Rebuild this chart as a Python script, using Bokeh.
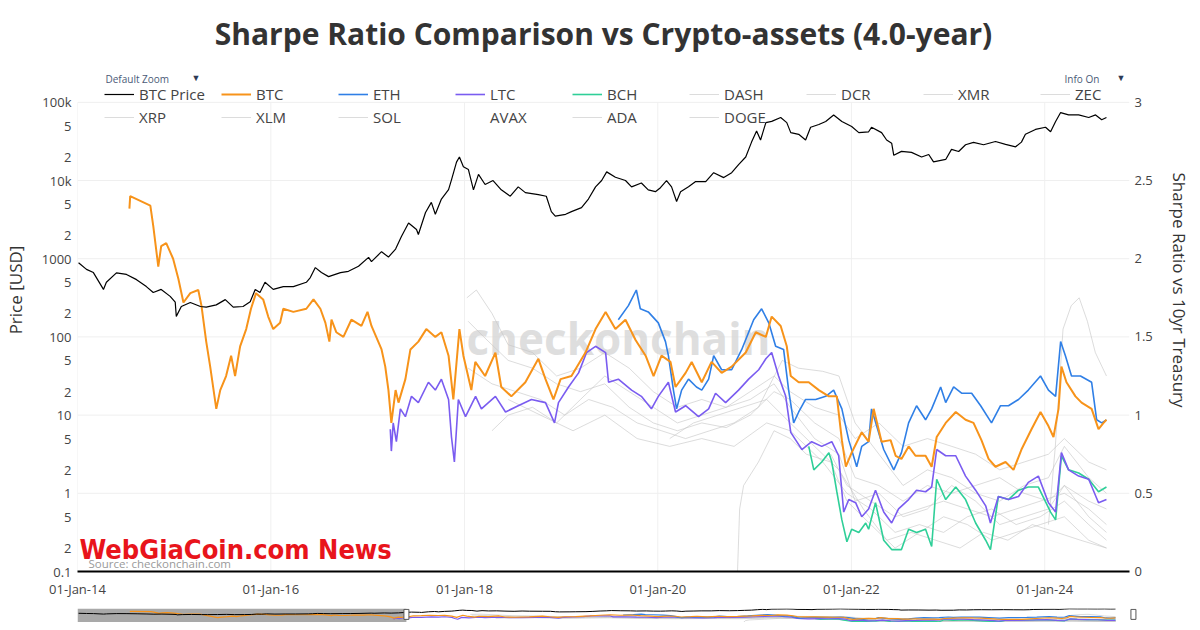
import pandas as pd
from bokeh.plotting import figure
from bokeh.models import (Range1d, LinearAxis, LinearScale, FixedTicker, DatetimeTickFormatter,
                          Legend, LegendItem, Label, BoxAnnotation)
from bokeh.layouts import column
from bokeh.embed import file_html
from bokeh.resources import INLINE

# ---------------- data ----------------
TITLE = "Sharpe Ratio Comparison vs Crypto-assets (4.0-year)"
X_START, X_END = "2014-01-01", "2024-11-16"
SLIDER_END = "2024-11-15"
SLIDER_MASK_END = "2017-05-16"
SLIDER_HANDLE_END = "2024-10-27"
TICK_YEARS = [2014, 2016, 2018, 2020, 2022, 2024]
PRICE_TICKS = [0.1, 0.2, 0.5, 1, 2, 5, 10, 20, 50, 100, 200, 500, 1000, 2000, 5000,
               10000, 20000, 50000, 100000]
PRICE_TICK_LABELS = ["0.1", "2", "5", "1", "2", "5", "10", "2", "5", "100", "2", "5",
                     "1000", "2", "5", "10k", "2", "5", "100k"]
PRICE_GRID = [1, 10, 100, 1000, 10000, 100000]
PRICE_AXIS = (0.1, 100000)
PRICE_VIEW_TOP = 10 ** 6.2           # head room above the axes for title / legend
SHARPE_TICKS = [0, 0.5, 1, 1.5, 2, 2.5, 3]
SHARPE_TICK_LABELS = ["0", "0.5", "1", "1.5", "2", "2.5", "3"]
SHARPE_AXIS = (0, 3)
SHARPE_VIEW_TOP = 3.6

PRICE_DATES = ["2014-01-05", "2014-02-04", "2014-03-02", "2014-04-09", "2014-04-20", "2014-05-28",
               "2014-07-05", "2014-08-12", "2014-09-18", "2014-10-14", "2014-11-13", "2014-12-17",
               "2015-01-05", "2015-01-09", "2015-01-28", "2015-03-03", "2015-04-10", "2015-05-02",
               "2015-06-09", "2015-07-13", "2015-08-12", "2015-09-18", "2015-10-15", "2015-11-03",
               "2015-11-21", "2015-12-10", "2016-01-10", "2016-02-17", "2016-03-26", "2016-05-14",
               "2016-05-29", "2016-06-17", "2016-07-10", "2016-08-06", "2016-09-20", "2016-10-20",
               "2016-11-27", "2017-01-04", "2017-01-15", "2017-02-22", "2017-03-20", "2017-04-16",
               "2017-05-08", "2017-06-04", "2017-07-04", "2017-07-11", "2017-08-07", "2017-08-29",
               "2017-09-13", "2017-10-06", "2017-11-02", "2017-11-13", "2017-12-02", "2017-12-13",
               "2017-12-28", "2018-01-16", "2018-02-04", "2018-02-23", "2018-03-20", "2018-04-19",
               "2018-05-20", "2018-06-23", "2018-07-23", "2018-08-19", "2018-10-07", "2018-11-06",
               "2018-11-25", "2018-12-10", "2019-01-18", "2019-02-09", "2019-03-19", "2019-04-14",
               "2019-05-11", "2019-06-03", "2019-06-22", "2019-07-25", "2019-09-01", "2019-09-24",
               "2019-10-31", "2019-11-26", "2019-12-23", "2020-01-11", "2020-02-03", "2020-02-22",
               "2020-03-12", "2020-03-27", "2020-04-26", "2020-05-23", "2020-06-30", "2020-07-30",
               "2020-09-06", "2020-10-06", "2020-11-01", "2020-11-28", "2020-12-20", "2021-01-08",
               "2021-01-23", "2021-02-12", "2021-03-06", "2021-04-09", "2021-05-02", "2021-05-17",
               "2021-06-16", "2021-07-12", "2021-07-31", "2021-08-31", "2021-09-26", "2021-10-26",
               "2021-11-26", "2022-01-02", "2022-01-29", "2022-03-07", "2022-03-18", "2022-04-25",
               "2022-05-14", "2022-06-02", "2022-06-10", "2022-07-09", "2022-08-16", "2022-09-23",
               "2022-10-20", "2022-11-07", "2022-12-23", "2023-01-14", "2023-02-10", "2023-03-08",
               "2023-04-07", "2023-05-15", "2023-06-29", "2023-08-06", "2023-09-13", "2023-10-05",
               "2023-10-20", "2023-11-27", "2024-01-04", "2024-01-23", "2024-02-11", "2024-03-01",
               "2024-03-31", "2024-05-08", "2024-06-15", "2024-07-11", "2024-08-03", "2024-08-21"]
PRICE = [890, 730, 665, 405, 500, 660, 630, 540, 440, 370, 405, 330,
         278, 183, 245, 275, 245, 240, 257, 300, 240, 245, 282, 405,
         370, 500, 405, 440, 440, 500, 575, 770, 665, 590, 665, 690,
         800, 1040, 920, 1230, 1050, 1330, 1920, 2870, 2360, 2040, 3900, 5250,
         3700, 5800, 7650, 10200, 17200, 20000, 15000, 13800, 7600, 12000, 8900, 10000,
         7600, 6300, 8300, 7000, 6600, 6300, 4000, 3500, 3700, 4000, 4500, 5800,
         8300, 10000, 12900, 11000, 10000, 8300, 9300, 7600, 7200, 8100, 10000, 8300,
         5400, 7200, 8300, 9700, 9700, 12600, 10900, 12600, 16000, 20000, 31000, 43000,
         33000, 55000, 57000, 64000, 55000, 41000, 39000, 33000, 48000, 52000, 57000, 69000,
         57000, 49000, 41000, 42000, 48000, 41000, 33000, 30000, 21000, 23600, 22900, 20000,
         21500, 17300, 18600, 25000, 23500, 28700, 30700, 28700, 31600, 29000, 27000, 31000,
         39000, 45000, 48000, 42000, 57000, 74000, 69000, 69000, 64000, 69000, 60000, 64000]

BTC_DATES = ["2014-07-16", "2014-07-19", "2014-10-03", "2014-10-14", "2014-11-02", "2014-11-13",
             "2014-12-02", "2014-12-28", "2015-01-17", "2015-02-05", "2015-03-03", "2015-04-02",
             "2015-04-14", "2015-05-02", "2015-05-17", "2015-06-09", "2015-06-24", "2015-07-16",
             "2015-08-04", "2015-08-19", "2015-09-07", "2015-09-30", "2015-10-18", "2015-11-06",
             "2015-12-03", "2015-12-22", "2016-01-10", "2016-02-05", "2016-02-17", "2016-03-26",
             "2016-05-14", "2016-06-10", "2016-07-06", "2016-07-25", "2016-08-09", "2016-08-17",
             "2016-09-04", "2016-10-01", "2016-10-31", "2016-12-08", "2016-12-31", "2017-01-15",
             "2017-02-22", "2017-03-08", "2017-03-20", "2017-03-31", "2017-04-16", "2017-04-27",
             "2017-05-23", "2017-06-11", "2017-07-11", "2017-08-10", "2017-09-13", "2017-10-06",
             "2017-11-02", "2017-11-20", "2017-12-13", "2017-12-28", "2018-01-27", "2018-02-11",
             "2018-03-20", "2018-04-28", "2018-05-20", "2018-06-27", "2018-08-19", "2018-10-07",
             "2018-11-03", "2018-12-03", "2018-12-30", "2019-02-09", "2019-04-03", "2019-05-11",
             "2019-06-18", "2019-07-25", "2019-09-01", "2019-10-09", "2019-11-16", "2019-12-16",
             "2020-01-15", "2020-02-18", "2020-03-08", "2020-04-15", "2020-05-08", "2020-06-15",
             "2020-07-22", "2020-08-29", "2020-10-06", "2020-11-28", "2021-01-05", "2021-02-12",
             "2021-03-06", "2021-04-09", "2021-05-02", "2021-05-17", "2021-06-16", "2021-07-24",
             "2021-08-31", "2021-10-08", "2021-11-07", "2021-11-26", "2021-12-11", "2022-01-02",
             "2022-02-09", "2022-03-07", "2022-03-26", "2022-04-25", "2022-05-29", "2022-06-17",
             "2022-07-09", "2022-08-05", "2022-08-31", "2022-10-08", "2022-10-31", "2022-11-19",
             "2022-12-23", "2023-01-30", "2023-03-08", "2023-04-07", "2023-05-07", "2023-06-03",
             "2023-06-29", "2023-08-06", "2023-09-05", "2023-10-05", "2023-11-12", "2023-12-16",
             "2024-01-15", "2024-02-03", "2024-02-22", "2024-03-04", "2024-03-23", "2024-04-26",
             "2024-05-19", "2024-06-26", "2024-07-22", "2024-08-10", "2024-08-21"]
BTC_SHARPE = [2.32, 2.40, 2.34, 2.21, 1.95, 2.08, 2.10, 2.00, 1.87, 1.72, 1.78, 1.80,
              1.70, 1.47, 1.31, 1.04, 1.16, 1.25, 1.38, 1.25, 1.44, 1.55, 1.68, 1.78,
              1.74, 1.63, 1.55, 1.59, 1.68, 1.66, 1.68, 1.74, 1.68, 1.59, 1.47, 1.61,
              1.53, 1.50, 1.61, 1.57, 1.66, 1.57, 1.42, 1.31, 1.16, 0.95, 1.16, 1.08,
              1.23, 1.42, 1.47, 1.55, 1.50, 1.53, 1.38, 1.10, 1.55, 1.38, 1.16, 1.34,
              1.25, 1.40, 1.18, 1.12, 1.21, 1.36, 1.23, 1.10, 1.23, 1.25, 1.40, 1.55,
              1.66, 1.55, 1.61, 1.48, 1.38, 1.25, 1.38, 1.34, 1.18, 1.27, 1.34, 1.21,
              1.34, 1.27, 1.31, 1.40, 1.53, 1.50, 1.63, 1.57, 1.44, 1.25, 1.21, 1.21,
              1.16, 1.12, 1.12, 0.84, 0.67, 0.76, 0.89, 0.83, 1.04, 0.83, 0.84, 0.74,
              0.72, 0.80, 0.74, 0.74, 0.67, 0.86, 0.95, 1.02, 0.97, 0.95, 0.84, 0.72,
              0.67, 0.70, 0.65, 0.78, 0.91, 1.02, 0.93, 0.86, 1.04, 1.31, 1.21, 1.12,
              1.08, 1.04, 0.91, 0.95, 0.97]

ETH_DATES = ["2019-08-05", "2019-09-12", "2019-10-12", "2019-10-27", "2019-11-26", "2020-01-03",
             "2020-01-30", "2020-02-10", "2020-02-29", "2020-03-12", "2020-03-31", "2020-04-26",
             "2020-05-26", "2020-06-15", "2020-07-11", "2020-07-30", "2020-08-29", "2020-10-06",
             "2020-11-13", "2020-12-28", "2021-01-27", "2021-02-23", "2021-03-21", "2021-04-20",
             "2021-05-09", "2021-05-28", "2021-06-16", "2021-07-12", "2021-08-19", "2021-09-26",
             "2021-10-26", "2021-11-26", "2021-12-22", "2022-01-21", "2022-02-09", "2022-03-07",
             "2022-03-18", "2022-05-03", "2022-06-10", "2022-07-09", "2022-08-05", "2022-09-04",
             "2022-10-08", "2022-10-31", "2022-12-04", "2022-12-23", "2023-01-22", "2023-02-21",
             "2023-03-31", "2023-05-04", "2023-06-14", "2023-07-18", "2023-08-17", "2023-09-24",
             "2023-10-31", "2023-12-16", "2024-01-15", "2024-02-11", "2024-03-01", "2024-03-19",
             "2024-04-11", "2024-05-15", "2024-06-26", "2024-07-15", "2024-08-03", "2024-08-21"]
ETH_SHARPE = [1.61, 1.70, 1.80, 1.68, 1.66, 1.59, 1.47, 1.38, 1.16, 1.04, 1.16, 1.23,
              1.18, 1.16, 1.23, 1.38, 1.29, 1.29, 1.42, 1.61, 1.68, 1.59, 1.44, 1.42,
              1.16, 0.95, 1.02, 1.10, 1.10, 1.12, 1.16, 1.04, 0.84, 0.67, 0.80, 0.83,
              1.04, 0.78, 0.65, 0.76, 0.95, 1.06, 0.97, 1.04, 1.18, 1.08, 1.18, 1.14,
              1.14, 1.06, 0.95, 1.06, 1.06, 1.10, 1.16, 1.25, 1.16, 1.12, 1.47, 1.38,
              1.25, 1.25, 1.21, 0.97, 0.95, 0.97]

LTC_DATES = ["2017-03-27", "2017-03-31", "2017-04-07", "2017-04-19", "2017-05-04", "2017-05-23",
             "2017-06-15", "2017-07-11", "2017-08-18", "2017-09-13", "2017-10-06", "2017-11-02",
             "2017-11-13", "2017-11-24", "2017-12-09", "2018-01-05", "2018-02-12", "2018-03-06",
             "2018-04-28", "2018-06-05", "2018-07-23", "2018-09-11", "2018-11-03", "2018-12-07",
             "2018-12-22", "2019-01-29", "2019-03-08", "2019-04-07", "2019-05-11", "2019-06-18",
             "2019-06-29", "2019-08-05", "2019-09-24", "2019-10-31", "2019-12-08", "2020-01-03",
             "2020-02-10", "2020-03-08", "2020-04-15", "2020-06-03", "2020-07-11", "2020-08-06",
             "2020-09-13", "2020-11-01", "2020-12-09", "2021-01-16", "2021-02-12", "2021-03-06",
             "2021-04-01", "2021-04-28", "2021-05-17", "2021-06-05", "2021-06-28", "2021-08-04",
             "2021-09-11", "2021-10-19", "2021-11-14", "2021-12-03", "2021-12-22", "2022-01-17",
             "2022-02-09", "2022-03-07", "2022-04-02", "2022-05-03", "2022-06-02", "2022-06-28",
             "2022-08-05", "2022-09-04", "2022-10-08", "2022-10-31", "2022-11-19", "2022-12-23",
             "2023-01-30", "2023-03-08", "2023-04-15", "2023-05-23", "2023-06-10", "2023-07-10",
             "2023-08-17", "2023-09-24", "2023-10-31", "2023-12-08", "2024-01-15", "2024-02-11",
             "2024-03-04", "2024-03-31", "2024-05-08", "2024-06-15", "2024-07-22", "2024-08-21"]
LTC_SHARPE = [0.91, 0.77, 0.95, 0.83, 1.04, 0.99, 1.12, 1.08, 1.21, 1.16, 1.23, 1.10,
              0.86, 0.70, 1.10, 0.99, 1.12, 1.04, 1.12, 1.02, 1.06, 1.10, 1.08, 0.95,
              1.08, 1.18, 1.27, 1.40, 1.44, 1.40, 1.21, 1.23, 1.16, 1.12, 1.04, 1.12,
              1.21, 1.02, 1.06, 0.99, 1.04, 1.14, 1.08, 1.16, 1.23, 1.29, 1.36, 1.40,
              1.25, 1.12, 0.89, 0.84, 0.78, 0.83, 0.80, 0.83, 0.74, 0.38, 0.46, 0.44,
              0.35, 0.40, 0.52, 0.38, 0.31, 0.40, 0.46, 0.52, 0.51, 0.54, 0.78, 0.74,
              0.74, 0.61, 0.52, 0.42, 0.31, 0.48, 0.46, 0.48, 0.57, 0.61, 0.44, 0.38,
              0.76, 0.65, 0.61, 0.59, 0.44, 0.46]

BCH_DATES = ["2021-07-24", "2021-08-12", "2021-09-11", "2021-10-08", "2021-10-19", "2021-11-07",
             "2021-11-26", "2021-12-15", "2022-01-02", "2022-01-29", "2022-02-24", "2022-03-07",
             "2022-04-02", "2022-05-03", "2022-06-02", "2022-07-09", "2022-08-05", "2022-09-04",
             "2022-10-08", "2022-10-31", "2022-11-19", "2022-12-23", "2023-01-30", "2023-03-08",
             "2023-04-15", "2023-05-23", "2023-06-10", "2023-07-10", "2023-08-17", "2023-09-24",
             "2023-10-31", "2023-12-08", "2024-01-23", "2024-02-11", "2024-03-04", "2024-03-31",
             "2024-05-08", "2024-06-15", "2024-07-22", "2024-08-21"]
BCH_SHARPE = [0.80, 0.65, 0.70, 0.76, 0.70, 0.51, 0.33, 0.19, 0.27, 0.25, 0.31, 0.27,
              0.44, 0.20, 0.14, 0.14, 0.27, 0.25, 0.27, 0.16, 0.59, 0.46, 0.54, 0.46,
              0.31, 0.20, 0.14, 0.48, 0.46, 0.52, 0.54, 0.54, 0.38, 0.33, 0.74, 0.65,
              0.63, 0.59, 0.51, 0.54]

DASH_DATES = ["2018-01-10", "2018-02-15", "2018-04-15", "2018-06-15", "2018-09-15", "2018-12-15",
              "2019-03-15", "2019-06-15", "2019-09-15", "2019-12-15", "2020-03-15", "2020-06-15",
              "2020-09-15", "2020-12-15", "2021-03-15", "2021-05-15", "2021-08-15", "2021-11-15",
              "2022-01-15", "2022-04-15", "2022-07-15", "2022-10-15", "2023-01-15", "2023-04-15",
              "2023-07-15", "2023-10-15", "2024-01-15", "2024-03-15", "2024-06-15", "2024-08-21"]
DASH_SHARPE = [1.75, 1.80, 1.65, 1.45, 1.40, 1.25, 1.30, 1.40, 1.30, 1.15, 1.05, 1.10,
               1.05, 1.10, 1.20, 1.05, 0.85, 0.75, 0.45, 0.50, 0.35, 0.40, 0.55, 0.45,
               0.30, 0.35, 0.40, 0.55, 0.35, 0.25]

DCR_DATES = ["2020-02-15", "2020-05-15", "2020-08-15", "2020-11-15", "2021-02-15", "2021-05-15",
             "2021-08-15", "2021-11-15", "2022-02-15", "2022-05-15", "2022-08-15", "2022-11-15",
             "2023-02-15", "2023-05-15", "2023-08-15", "2023-11-15", "2024-02-15", "2024-05-15",
             "2024-08-21"]
DCR_SHARPE = [0.85, 0.95, 1.00, 1.05, 1.10, 0.95, 0.80, 0.65, 0.40, 0.20, 0.25, 0.20,
              0.15, 0.25, 0.20, 0.30, 0.25, 0.20, 0.15]

XMR_DATES = ["2018-04-15", "2018-06-15", "2018-09-15", "2018-12-15", "2019-03-15", "2019-06-15",
             "2019-09-15", "2019-12-15", "2020-03-15", "2020-06-15", "2020-09-15", "2020-12-15",
             "2021-03-15", "2021-05-15", "2021-08-15", "2021-11-15", "2022-01-15", "2022-04-15",
             "2022-07-15", "2022-10-15", "2023-01-15", "2023-04-15", "2023-07-15", "2023-10-15",
             "2024-01-15", "2024-03-15", "2024-06-15", "2024-08-21"]
XMR_SHARPE = [0.90, 1.00, 1.05, 0.95, 1.10, 1.25, 1.15, 1.05, 0.95, 1.00, 1.05, 1.15,
              1.25, 1.15, 1.05, 1.00, 0.85, 0.95, 0.80, 0.85, 0.80, 0.75, 0.65, 0.70,
              0.75, 0.85, 0.70, 0.65]

ZEC_DATES = ["2020-10-28", "2020-11-05", "2020-11-20", "2021-01-15", "2021-03-15", "2021-05-15",
             "2021-07-15", "2021-10-15", "2021-12-15", "2022-03-15", "2022-06-15", "2022-09-15",
             "2022-12-15", "2023-03-15", "2023-06-15", "2023-09-15", "2023-12-15", "2024-03-15",
             "2024-06-15", "2024-08-21"]
ZEC_SHARPE = [0.00, 0.40, 0.55, 0.70, 0.90, 0.85, 0.75, 0.70, 0.45, 0.30, 0.15, 0.25,
              0.35, 0.30, 0.20, 0.25, 0.30, 0.35, 0.20, 0.15]

XRP_DATES = ["2018-01-15", "2018-03-15", "2018-06-15", "2018-09-15", "2018-12-15", "2019-03-15",
             "2019-06-15", "2019-09-15", "2019-12-15", "2020-03-15", "2020-06-15", "2020-09-15",
             "2020-12-15", "2021-03-15", "2021-05-15", "2021-08-15", "2021-11-15", "2022-01-15",
             "2022-04-15", "2022-07-15", "2022-10-15", "2023-01-15", "2023-04-15", "2023-07-15",
             "2023-10-15", "2024-01-15", "2024-03-15", "2024-06-15", "2024-08-21"]
XRP_SHARPE = [1.60, 1.50, 1.35, 1.30, 1.20, 1.15, 1.20, 1.05, 0.95, 0.90, 0.95, 0.92,
              1.00, 1.15, 1.10, 0.95, 0.85, 0.60, 0.55, 0.45, 0.55, 0.50, 0.55, 0.60,
              0.50, 0.45, 0.55, 0.45, 0.40]

XLM_DATES = ["2018-06-15", "2018-10-15", "2019-02-15", "2019-06-15", "2019-10-15", "2020-02-15",
             "2020-06-15", "2020-10-15", "2021-02-15", "2021-05-15", "2021-09-15", "2021-12-15",
             "2022-03-15", "2022-06-15", "2022-09-15", "2022-12-15", "2023-03-15", "2023-06-15",
             "2023-09-15", "2023-12-15", "2024-03-15", "2024-06-15", "2024-08-21"]
XLM_SHARPE = [1.10, 1.00, 0.90, 1.00, 0.85, 0.80, 0.85, 0.80, 0.95, 0.90, 0.70, 0.50,
              0.40, 0.25, 0.30, 0.25, 0.35, 0.40, 0.30, 0.35, 0.45, 0.30, 0.20]

SOL_DATES = ["2024-01-15", "2024-02-10", "2024-03-10", "2024-04-10", "2024-05-10", "2024-06-10",
             "2024-07-10", "2024-08-21"]
SOL_SHARPE = [0.30, 0.80, 1.55, 1.70, 1.75, 1.60, 1.40, 1.25]

AVAX_DATES = []
AVAX_SHARPE = []

ADA_DATES = ["2021-10-15", "2021-12-15", "2022-03-15", "2022-06-15", "2022-09-15", "2022-12-15",
             "2023-03-15", "2023-06-15", "2023-09-15", "2023-12-15", "2024-03-15", "2024-06-15",
             "2024-08-21"]
ADA_SHARPE = [0.75, 0.55, 0.45, 0.35, 0.40, 0.45, 0.40, 0.35, 0.40, 0.45, 0.50, 0.40, 0.30]

DOGE_DATES = ["2018-01-15", "2018-04-15", "2018-07-15", "2018-10-15", "2019-01-15", "2019-04-15",
              "2019-07-15", "2019-10-15", "2020-01-15", "2020-04-15", "2020-07-15", "2020-10-15",
              "2021-01-15", "2021-04-15", "2021-06-15", "2021-09-15", "2021-11-15", "2022-01-15",
              "2022-04-15", "2022-07-15", "2022-10-15", "2023-01-15", "2023-04-15", "2023-07-15",
              "2023-10-15", "2024-01-15", "2024-03-15", "2024-06-15", "2024-08-21"]
DOGE_SHARPE = [1.30, 1.20, 1.15, 1.10, 1.00, 1.10, 1.05, 0.95, 0.90, 0.85, 0.90, 0.95,
               1.05, 1.35, 1.30, 1.28, 1.25, 0.95, 0.75, 0.55, 0.65, 0.60, 0.50, 0.45,
               0.55, 0.60, 0.80, 0.60, 0.50]

COLORED = [("BTC", BTC_DATES, BTC_SHARPE, "#f7931a", 2.0),
           ("ETH", ETH_DATES, ETH_SHARPE, "#2f7fe6", 1.6),
           ("LTC", LTC_DATES, LTC_SHARPE, "#7a5cf0", 1.6),
           ("BCH", BCH_DATES, BCH_SHARPE, "#2fcf98", 1.6)]
GRAYS = [("DASH", DASH_DATES, DASH_SHARPE), ("DCR", DCR_DATES, DCR_SHARPE),
         ("XMR", XMR_DATES, XMR_SHARPE), ("ZEC", ZEC_DATES, ZEC_SHARPE),
         ("XRP", XRP_DATES, XRP_SHARPE), ("XLM", XLM_DATES, XLM_SHARPE),
         ("SOL", SOL_DATES, SOL_SHARPE), ("AVAX", AVAX_DATES, AVAX_SHARPE),
         ("ADA", ADA_DATES, ADA_SHARPE), ("DOGE", DOGE_DATES, DOGE_SHARPE)]
LEGEND_ORDER = ["BTC Price", "BTC", "ETH", "LTC", "BCH", "DASH", "DCR", "XMR", "ZEC",
                "XRP", "XLM", "SOL", "AVAX", "ADA", "DOGE"]

GRAY = "#c4c4c4"
FONT = "Open Sans"


def dts(lst):
    return pd.to_datetime(pd.Series(lst, dtype="object"))


def ms(d):
    return pd.Timestamp(d).value / 1e6


# ---------------- main figure ----------------
FRAME_W, FRAME_H = 1052, 563
p = figure(frame_width=FRAME_W, frame_height=FRAME_H, x_axis_type="datetime", y_axis_type="log",
           x_range=Range1d(pd.Timestamp(X_START), pd.Timestamp(X_END)),
           y_range=Range1d(PRICE_AXIS[0], PRICE_VIEW_TOP),
           output_backend="svg", toolbar_location=None,
           min_border_left=71, min_border_right=61, min_border_top=8, min_border_bottom=37,
           background_fill_color="white", border_fill_color="white")
p.outline_line_color = None
p.extra_y_ranges = {"sharpe": Range1d(SHARPE_AXIS[0], SHARPE_VIEW_TOP)}
p.extra_y_scales = {"sharpe": LinearScale()}

# axes
yl = p.yaxis[0]
yl.ticker = FixedTicker(ticks=PRICE_TICKS)
yl.major_label_overrides = {t: l for t, l in zip(PRICE_TICKS, PRICE_TICK_LABELS)}
yl.axis_label = "Price [USD]"
yl.bounds = PRICE_AXIS
yr = LinearAxis(y_range_name="sharpe", ticker=FixedTicker(ticks=SHARPE_TICKS),
                axis_label="Sharpe Ratio vs 10yr Treasury", bounds=SHARPE_AXIS)
yr.major_label_overrides = {t: l for t, l in zip(SHARPE_TICKS, SHARPE_TICK_LABELS)}
p.add_layout(yr, "right")
xa = p.xaxis[0]
x_tick_ms = [ms(f"{y}-01-01") for y in TICK_YEARS]
xa.ticker = FixedTicker(ticks=x_tick_ms)
fmt = "%d-%b-%y"
xa.formatter = DatetimeTickFormatter(years=fmt, months=fmt, days=fmt, hours=fmt)

for ax in (yl, yr, xa):
    ax.major_tick_line_color = None
    ax.minor_tick_line_color = None
    ax.major_tick_out = 0
    ax.major_tick_in = 0
    ax.minor_tick_out = 0
    ax.minor_tick_in = 0
    ax.major_label_text_font = FONT
    ax.major_label_text_font_size = "13px"
    ax.major_label_text_color = "#444444"
    ax.axis_label_text_font = FONT
    ax.axis_label_text_font_size = "17px"
    ax.axis_label_text_font_style = "normal"
    ax.axis_label_text_color = "#333333"
yl.axis_line_color = None
yr.axis_line_color = None
xa.axis_line_color = "black"
xa.axis_line_width = 2
yl.major_label_standoff = 6
yr.major_label_standoff = 5
xa.major_label_standoff = 8
yl.axis_label_standoff = 12
yr.axis_label_standoff = 12

# grid only over the axis span
p.xgrid.visible = False
p.ygrid.visible = False
grid_x = pd.to_datetime(x_tick_ms, unit="ms")
p.segment(x0=grid_x, y0=[PRICE_AXIS[0]] * len(grid_x), x1=grid_x,
          y1=[PRICE_AXIS[1]] * len(grid_x), line_color="#f0f0f0", line_width=1,
          level="underlay")
p.segment(x0=[pd.Timestamp(X_START)] * len(PRICE_GRID), y0=PRICE_GRID,
          x1=[pd.Timestamp(X_END)] * len(PRICE_GRID), y1=PRICE_GRID,
          line_color="#efefef", line_width=1, level="underlay")

# title drawn inside the (tall) frame
p.add_layout(Label(x=526, y=FRAME_H - 25, x_units="screen", y_units="screen",
                   text=TITLE, text_font=FONT, text_font_style="bold", text_font_size="30px",
                   text_color="#333333", text_align="center", text_baseline="middle"))

# watermark behind the lines
p.add_layout(Label(x=541, y=234, x_units="screen", y_units="screen", text="checkonchain",
                   text_font=FONT, text_font_style="bold", text_font_size="44px",
                   text_color="#d6d6d6", text_alpha=0.8, text_align="center",
                   text_baseline="middle", level="underlay"))

renderers = {}
for name, d, v in GRAYS:
    renderers[name] = p.line(dts(d), v, y_range_name="sharpe", line_color=GRAY,
                             line_alpha=0.6, line_width=1)
for name, d, v, c, w in COLORED[::-1]:
    renderers[name] = p.line(dts(d), v, y_range_name="sharpe", line_color=c, line_width=w)
renderers["BTC Price"] = p.line(dts(PRICE_DATES), PRICE, line_color="black", line_width=1.2)

legend = Legend(items=[LegendItem(label=n, renderers=[renderers[n]]) for n in LEGEND_ORDER],
                orientation="horizontal", ncols=9, location=(27, 444),
                glyph_width=30, glyph_height=14, label_standoff=5, label_width=79,
                label_height=20, spacing=3, padding=0, margin=0,
                border_line_color=None, background_fill_alpha=0,
                label_text_font=FONT, label_text_font_size="15px", label_text_color="#444444")
p.add_layout(legend)

# small texts inside the frame
for x, txt, tri in ((28, "Default Zoom", 86), (987, "Info On", 52)):
    p.add_layout(Label(x=x, y=493, x_units="screen", y_units="screen", text=txt,
                       text_font=FONT, text_font_size="10px", text_color="#4b5a78",
                       text_baseline="middle"))
    p.add_layout(Label(x=x + tri, y=494, x_units="screen", y_units="screen", text="▼",
                       text_font=FONT, text_font_size="9px", text_color="#2d3a55",
                       text_baseline="middle"))
p.add_layout(Label(x=11, y=8, x_units="screen", y_units="screen",
                   text="Source: checkonchain.com", text_font=FONT, text_font_size="11.5px",
                   text_color="#9a9a9a", text_baseline="middle"))
p.add_layout(Label(x=2, y=22, x_units="screen", y_units="screen",
                   text="WebGiaCoin.com News",
                   text_font="Liberation Sans Narrow, DejaVu Sans Condensed, Roboto",
                   text_font_style="bold", text_font_size="27px", text_color="#e8141b",
                   text_baseline="middle", level="overlay"))

# ---------------- range slider ----------------
s = figure(frame_width=1061, frame_height=14, x_axis_type="datetime", y_axis_type="log",
           x_range=Range1d(pd.Timestamp(X_START), pd.Timestamp(SLIDER_END)),
           y_range=Range1d(PRICE_AXIS[0], PRICE_AXIS[1]), x_axis_location=None,
           y_axis_location=None, output_backend="svg", toolbar_location=None,
           min_border_left=71, min_border_right=52, min_border_top=0, min_border_bottom=0)
s.outline_line_color = None
s.grid.visible = False
s.extra_y_ranges = {"sharpe": Range1d(SHARPE_AXIS[0], SHARPE_AXIS[1])}
s.extra_y_scales = {"sharpe": LinearScale()}
s.add_layout(BoxAnnotation(left=pd.Timestamp(X_START), right=pd.Timestamp(SLIDER_MASK_END),
                           fill_color="#a9a9a9", fill_alpha=1, line_color=None,
                           level="underlay"))
for name, d, v in GRAYS:
    s.line(dts(d), v, y_range_name="sharpe", line_color=GRAY, line_alpha=0.6, line_width=1)
for name, d, v, c, w in COLORED[::-1]:
    s.line(dts(d), v, y_range_name="sharpe", line_color=c, line_width=1.2)
s.line(dts(PRICE_DATES), PRICE, line_color="black", line_width=1)
s.rect(x=[pd.Timestamp(SLIDER_MASK_END), pd.Timestamp(SLIDER_HANDLE_END)], y=[300, 300],
       width=5, height=10, width_units="screen", height_units="screen",
       fill_color="white", line_color="#555555", line_width=1)

layout = column(p, s, spacing=0)
open("out.html", "w").write(file_html(layout, INLINE))
